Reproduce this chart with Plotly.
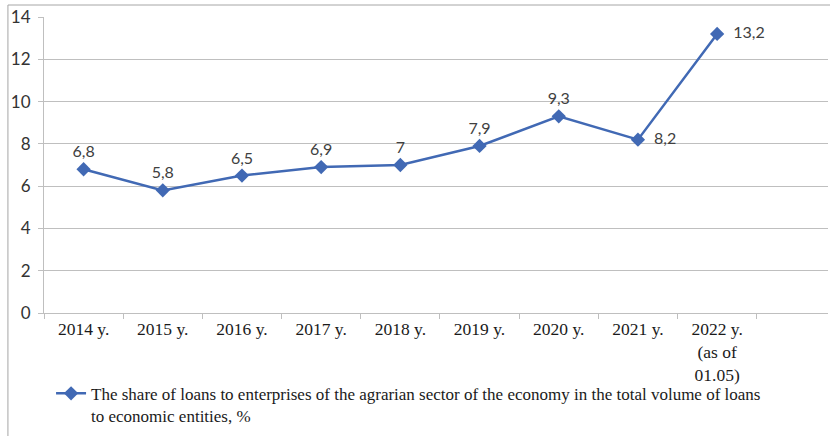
import plotly.graph_objects as go

categories = ["2014 y.", "2015 y.", "2016 y.", "2017 y.", "2018 y.", "2019 y.", "2020 y.", "2021 y.",
              "2022 y.<br>(as of<br>01.05)"]
values = [6.8, 5.8, 6.5, 6.9, 7.0, 7.9, 9.3, 8.2, 13.2]
label_pos = ["top center"] * 7 + ["middle right", "middle right"]
series_name = ("The share of loans to enterprises of the agrarian sector of the economy in the total volume of loans"
               "<br>to economic entities, %")
y_ticks = [0, 2, 4, 6, 8, 10, 12, 14]


def fmt(v):
    s = ("%g" % v)
    return s.replace(".", ",")


texts = [fmt(v) for v in values]
texts_padded = [("  " + t) if p == "middle right" else t for t, p in zip(texts, label_pos)]

blue = "#4169B4"
grid = "#BFBFBF"
serif = "Liberation Serif, Times New Roman, serif"
sans = "Lato, Open Sans, sans-serif"

fig = go.Figure()
fig.add_trace(go.Scatter(
    x=categories, y=values, mode="lines+markers+text",
    name=series_name,
    line=dict(color=blue, width=2.5),
    marker=dict(symbol="diamond", size=11, color=blue),
    text=texts_padded, textposition=label_pos,
    textfont=dict(family=sans, size=16, color="#404040"),
    cliponaxis=False,
))

fig.update_layout(
    width=830, height=436,
    margin=dict(l=44, r=2, t=17, b=123, autoexpand=False),
    paper_bgcolor="white", plot_bgcolor="white",
    showlegend=True,
    legend=dict(
        x=0.009, y=-0.212, xanchor="left", yanchor="top",
        orientation="h", valign="top",
        font=dict(family=serif, size=17, color="#1a1a1a"),
        bgcolor="rgba(0,0,0,0)", itemwidth=30,
    ),
    xaxis=dict(
        type="category", range=[-0.5, 9.4],
        showgrid=False, showline=True, linecolor=grid, linewidth=1,
        ticks="outside", ticklen=5, tickcolor=grid, tickson="boundaries",
        tickfont=dict(family=serif, size=17.5, color="#1a1a1a"),
        fixedrange=True,
    ),
    yaxis=dict(
        range=[0, 14], tickvals=y_ticks, ticktext=[str(v) for v in y_ticks],
        showgrid=True, gridcolor=grid, gridwidth=1,
        showline=True, linecolor=grid, linewidth=1,
        ticks="outside", ticklen=5, tickcolor=grid,
        ticklabelstandoff=4,
        tickfont=dict(family=sans, size=17, color="#333333"),
        zeroline=False, fixedrange=True,
    ),
    shapes=[dict(type="rect", xref="paper", yref="paper",
                 x0=-0.046, x1=1.3, y0=-0.6, y1=1.0405,
                 line=dict(color="#A6A6A6", width=1), layer="below")],
)

fig.write_html("out.html", config={"displayModeBar": False},
               post_script="document.body.style.margin='0';document.body.style.overflow='hidden';")
